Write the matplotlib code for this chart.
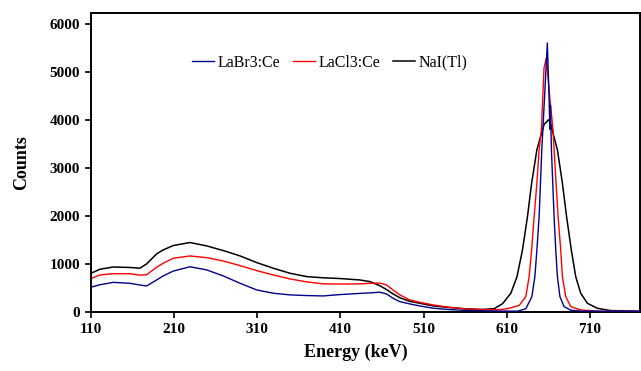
import matplotlib
matplotlib.use("Agg")
import matplotlib.pyplot as plt

# Cs-137 spectra (energy keV, counts)
labr_e = [110, 120.8, 136.8, 156.9, 168.9, 176.9, 189, 196.9, 208.9, 229, 249, 269,
          289.1, 309.2, 329.1, 349.2, 369.3, 389.2, 409.3, 433.3, 445.3, 457.4, 465.4,
          473.3, 481.4, 493.4, 505.4, 521.4, 541.5, 561.6, 581.5, 601.6, 623, 633,
          640.3, 643.9, 646.3, 649, 652.2, 653.5, 656.5, 658.9, 660.9, 662.0, 662.6,
          663.8, 667, 669, 671, 674, 679, 687, 700, 770]
labr_c = [510, 560, 610, 590, 555, 535, 661, 745, 845, 935, 870, 745,
          592, 453, 384, 349, 335, 327, 355, 380, 390, 405, 369,
          279, 209, 161, 119, 72, 42, 25, 18, 12, 10, 60,
          313, 730, 1287, 1981, 3372, 3789, 4800, 5597, 4484, 3800, 4300,
          3372, 1981, 1287, 730, 313, 105, 30, 10, 5]

lacl_e = [110, 120.8, 136.8, 156.9, 168.9, 176.9, 189, 196.9, 208.9, 229, 249, 269,
          289.1, 309.2, 329.1, 349.2, 369.3, 389.2, 409.3, 433.3, 445.3, 457.4, 465.4,
          473.3, 481.4, 493.4, 505.4, 521.4, 541.5, 561.6, 581.5, 600, 611, 625, 633,
          637, 640, 643, 646.3, 649, 651.7, 654.9, 657.7, 661.7, 665.7, 667, 671.8,
          675, 677, 681, 687, 699, 720, 770]
lacl_c = [690, 765, 790, 790, 760, 770, 925, 1009, 1113, 1160, 1125, 1055,
          960, 855, 765, 682, 620, 580, 575, 578, 592, 595, 557,
          453, 350, 244, 195, 140, 90, 55, 42, 40, 60, 130, 313,
          730, 1287, 1981, 2677, 3372, 3789, 5077, 5285, 4484, 3789, 3372, 1981,
          1287, 730, 313, 105, 35, 10, 5]

nai_e = [110, 120.8, 136.8, 156.9, 168.9, 176.9, 189, 196.9, 208.9, 229, 249, 269,
         289.1, 309.2, 329.1, 349.2, 369.3, 389.2, 409.3, 433.3, 445.3, 457.4, 465.4,
         473.3, 481.4, 493.4, 505.4, 521.4, 541.5, 561.6, 581.5, 595, 605, 615, 622.4,
         629, 635, 640, 646.3, 650, 655, 660.5, 663, 666, 671, 677, 682, 687.7, 693,
         699, 707, 719, 735, 770]
nai_c = [800, 884, 930, 920, 905, 995, 1204, 1287, 1377, 1440, 1370, 1273,
         1162, 1023, 905, 800, 730, 705, 690, 660, 626, 540, 460,
         370, 290, 215, 175, 120, 85, 58, 45, 62, 165, 384, 730,
         1287, 1981, 2677, 3372, 3600, 3900, 4000, 3900, 3700, 3372, 2677, 1981, 1287, 730,
         384, 175, 70, 22, 10]

x_ticks = [110, 210, 310, 410, 510, 610, 710]
y_ticks = [0, 1000, 2000, 3000, 4000, 5000, 6000]

SERIF = ["Liberation Serif", "DejaVu Serif"]

fig = plt.figure(figsize=(6.41, 3.71), dpi=100)
ax = fig.add_axes([0.142, 0.160, 0.856, 0.806])

ax.plot(labr_e, labr_c, color="#00008b", lw=1.0, label="LaBr3:Ce", zorder=3)
ax.plot(lacl_e, lacl_c, color="#ff0000", lw=1.0, label="LaCl3:Ce", zorder=2)
ax.plot(nai_e, nai_c, color="#000000", lw=1.1, label="NaI(Tl)", zorder=1)

ax.set_xlim(110, 770)
ax.set_ylim(0, 6230)
ax.set_xticks(x_ticks)
ax.set_yticks(y_ticks)
for lab in ax.get_xticklabels() + ax.get_yticklabels():
    lab.set_family(SERIF)
    lab.set_fontweight("bold")
    lab.set_fontsize(11)
ax.tick_params(direction="out", length=4, width=1.2, colors="black", pad=4)

ax.set_xlabel("Energy (keV)", family=SERIF, fontweight="bold", fontsize=13)
ax.set_ylabel("Counts", family=SERIF, fontweight="bold", fontsize=13)
ax.xaxis.set_label_coords(0.483, -0.108)
ax.yaxis.set_label_coords(-0.111, 0.5)

for s in ax.spines.values():
    s.set_linewidth(1.4)
    s.set_color("black")

ax.legend(loc="center", bbox_to_anchor=(0.435, 0.832), ncol=3, frameon=False,
          prop={"family": SERIF, "size": 11.5}, handlelength=1.4, handletextpad=0.2,
          columnspacing=0.8)

fig.savefig("out.png", dpi=100, facecolor="white")
